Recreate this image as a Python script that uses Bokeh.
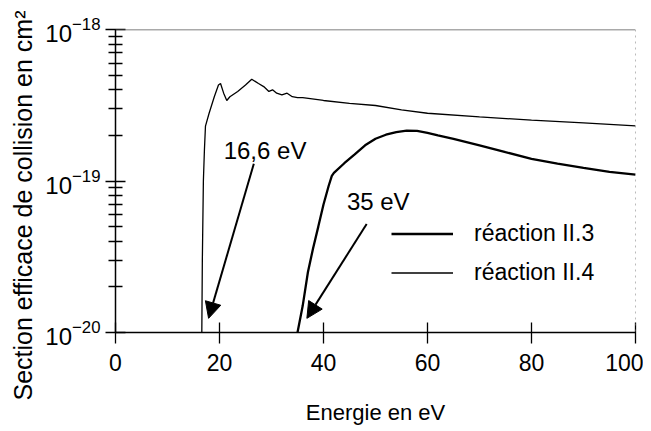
from bokeh.plotting import figure
from bokeh.models import (Range1d, FixedTicker, LogTickFormatter, Legend, LegendItem,
                          Arrow, NormalHead, Label, Span, Title)
from bokeh.embed import file_html
from bokeh.resources import INLINE

# ---- data ----
e_II3 = [35, 36, 37, 38, 39, 40, 41, 41.6, 42, 44, 46, 48, 50, 52, 54, 56, 58, 60,
         62, 65, 70, 75, 80, 85, 90, 95, 100]
s_II3 = [1.0e-20, 1.5e-20, 2.5e-20, 3.6e-20, 5.0e-20, 7.0e-20, 9.3e-20, 1.08e-19, 1.13e-19,
         1.31e-19, 1.5e-19, 1.72e-19, 1.9e-19, 2.02e-19, 2.1e-19, 2.15e-19, 2.14e-19, 2.08e-19,
         2.0e-19, 1.9e-19, 1.72e-19, 1.55e-19, 1.4e-19, 1.3e-19, 1.22e-19, 1.15e-19, 1.1e-19]

e_II4 = [16.6, 16.7, 16.9, 17.1, 17.3, 18.0, 19.0, 19.8, 20.2, 20.8, 21.4, 22.0, 23.5,
         25.0, 26.2, 27.5, 28.5, 29.5, 30.2, 31.0, 32.0, 33.0, 34.0, 35.0, 36.0, 40.0,
         45.0, 50.0, 55.0, 60.0, 70.0, 80.0, 90.0, 100.0]
s_II4 = [1.0e-20, 3.0e-20, 1.0e-19, 1.6e-19, 2.3e-19, 2.8e-19, 3.6e-19, 4.3e-19, 4.4e-19,
         3.8e-19, 3.4e-19, 3.6e-19, 3.9e-19, 4.3e-19, 4.7e-19, 4.4e-19, 4.2e-19, 3.9e-19,
         4.0e-19, 3.8e-19, 3.7e-19, 3.8e-19, 3.6e-19, 3.55e-19, 3.55e-19, 3.4e-19,
         3.25e-19, 3.15e-19, 2.95e-19, 2.8e-19, 2.65e-19, 2.52e-19, 2.42e-19, 2.31e-19]

x_ticks = [0, 20, 40, 60, 80, 100]
y_major = [1e-20, 1e-19, 1e-18]
y_minor = [m * d for d in [1e-20, 1e-19] for m in range(2, 10)]

labels = ["réaction II.3", "réaction II.4"]
thresholds = ["16,6 eV", "35 eV"]

FONT = "Liberation Sans"

p = figure(width=643, height=427, x_axis_type="linear", y_axis_type="log",
           x_range=Range1d(0, 100), y_range=Range1d(1e-20, 1e-18),
           output_backend="svg", toolbar_location=None,
           min_border_left=114, min_border_right=8, min_border_top=29)
p.outline_line_color = None
p.grid.visible = False
p.background_fill_color = "white"

# axes
p.xaxis.ticker = FixedTicker(ticks=x_ticks)
p.xaxis.axis_label = "Energie en eV"
p.xaxis.axis_label_text_font = FONT
p.xaxis.axis_label_text_font_size = "22px"
p.xaxis.axis_label_text_font_style = "normal"
p.xaxis.axis_label_text_color = "black"
p.xaxis.axis_label_standoff = 26
p.xaxis.major_tick_in = 10
p.xaxis.major_tick_out = 11
p.xaxis.minor_tick_line_color = None
p.xaxis.major_label_standoff = 10

p.yaxis.ticker = FixedTicker(ticks=y_major, minor_ticks=y_minor)
p.yaxis.formatter = LogTickFormatter()
p.yaxis.major_tick_in = 10
p.yaxis.major_tick_out = 10
p.yaxis.minor_tick_in = 7
p.yaxis.minor_tick_out = 7
p.yaxis.major_label_standoff = 5

for ax, fs in ((p.xaxis[0], "23px"), (p.yaxis[0], "24px")):
    ax.axis_line_color = "black"
    ax.axis_line_width = 1.5
    ax.major_tick_line_color = "black"
    ax.major_tick_line_width = 1.3
    ax.minor_tick_line_width = 1.3
    ax.major_label_text_font = FONT
    ax.major_label_text_font_size = fs
    ax.major_label_text_color = "black"

# y axis title (placed as a side title so it can extend past the frame)
ytitle = Title(text="Section efficace de collision en cm²", align="left", offset=-68,
               text_font=FONT, text_font_size="25px", text_font_style="normal",
               text_color="black", standoff=12)
p.add_layout(ytitle, "left")

# frame top / right
p.add_layout(Span(location=1e-18, dimension="width", line_color="#555555", line_width=1.5))
p.add_layout(Span(location=100, dimension="height", line_color="#777777", line_width=1,
                  line_dash="dotted"))

# curves
r3 = p.line(e_II3, s_II3, line_color="black", line_width=2.3)
r4 = p.line(e_II4, s_II4, line_color="black", line_width=1.3)

legend = Legend(items=[LegendItem(label=labels[0], renderers=[r3]),
                       LegendItem(label=labels[1], renderers=[r4])],
                location=(276, 46), orientation="vertical",
                border_line_color=None, background_fill_alpha=0,
                padding=0, margin=0, spacing=12,
                glyph_width=62, glyph_height=27, label_height=27,
                label_standoff=21, label_text_font=FONT, label_text_font_size="23px",
                label_text_color="black")
p.add_layout(legend, "center")

# arrows + threshold labels
p.add_layout(Arrow(end=NormalHead(size=16, fill_color="black", line_color="black"),
                   x_start=26.6, y_start=1.3e-19, x_end=17.9, y_end=1.24e-20,
                   line_color="black", line_width=2))
p.add_layout(Arrow(end=NormalHead(size=16, fill_color="black", line_color="black"),
                   x_start=48.3, y_start=5.2e-20, x_end=36.8, y_end=1.24e-20,
                   line_color="black", line_width=2))
p.add_layout(Label(x=20.8, y=1.6e-19, text=thresholds[0], text_font=FONT,
                   text_font_size="24px", text_baseline="alphabetic", text_color="black"))
p.add_layout(Label(x=44.5, y=7.3e-20, text=thresholds[1], text_font=FONT,
                   text_font_size="24px", text_baseline="alphabetic", text_color="black"))

open("out.html", "w").write(file_html(p, INLINE))
